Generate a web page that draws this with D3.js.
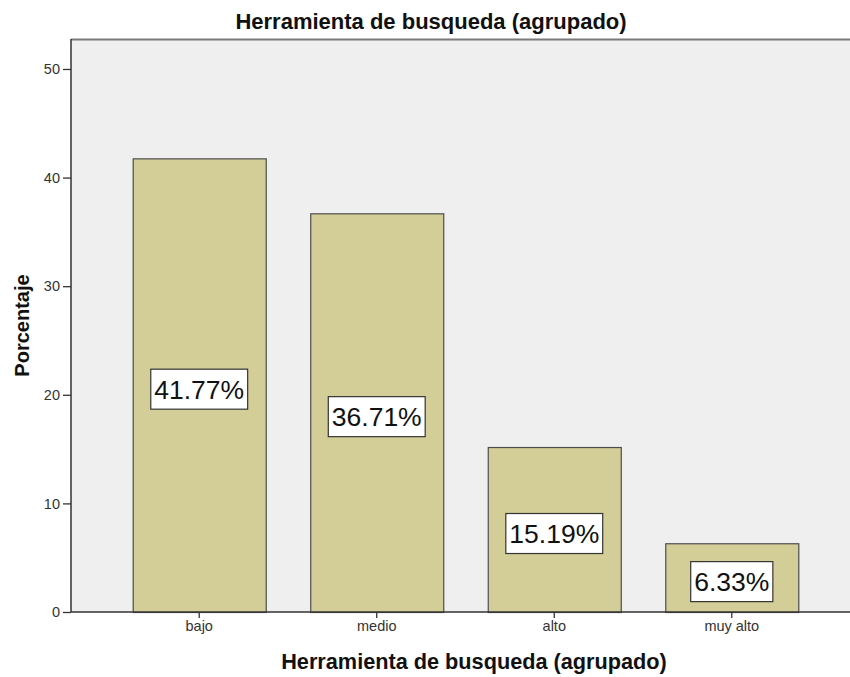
<!DOCTYPE html>
<html>
<head>
<meta charset="utf-8">
<script src="https://cdn.jsdelivr.net/npm/d3@7"></script>
<style>
  html, body { margin: 0; padding: 0; background: #ffffff; }
  svg { display: block; }
</style>
</head>
<body>
<svg id="chart" width="850" height="677"></svg>
<script>
const categories = ["bajo", "medio", "alto", "muy alto"];
const percentages = [41.77, 36.71, 15.19, 6.33];
const valueLabels = ["41.77%", "36.71%", "15.19%", "6.33%"];
const yTicks = [0, 10, 20, 30, 40, 50];
const chartTitle = "Herramienta de busqueda (agrupado)";
const xTitle = "Herramienta de busqueda (agrupado)";
const yTitle = "Porcentaje";

const svg = d3.select("#chart");
const font = "Arial, 'Liberation Sans', Helvetica, sans-serif";
const plot = { left: 71, top: 39, right: 860, bottom: 612 };

const y = d3.scaleLinear().domain([0, 52.76]).range([plot.bottom, plot.top]);
const x = d3.scaleBand().domain(categories).range([plot.left, plot.right])
  .paddingInner(0.2507).paddingOuter(0.3476);

// plot background
svg.append("rect")
  .attr("x", plot.left).attr("y", plot.top)
  .attr("width", plot.right - plot.left).attr("height", plot.bottom - plot.top)
  .attr("fill", "#efefef");
// top border
svg.append("line")
  .attr("x1", plot.left).attr("x2", plot.right)
  .attr("y1", plot.top + 0.5).attr("y2", plot.top + 0.5)
  .attr("stroke", "#7a7a7a").attr("stroke-width", 2);

// bars
const data = categories.map((c, i) => ({ c, v: percentages[i], label: valueLabels[i] }));
svg.append("g").selectAll("rect").data(data).join("rect")
  .attr("x", d => x(d.c) + 0.5)
  .attr("y", d => y(d.v) + 0.5)
  .attr("width", x.bandwidth())
  .attr("height", d => y(0) - y(d.v))
  .attr("fill", "#d3ce98")
  .attr("stroke", "#4d4d4d").attr("stroke-width", 1.2);

// axes
const yAxis = d3.axisLeft(y).tickValues(yTicks).tickSize(8).tickPadding(3);
const gy = svg.append("g").attr("transform", `translate(${plot.left},0)`).call(yAxis);
gy.select(".domain").attr("stroke", "#333").attr("stroke-width", 1.5)
  .attr("d", `M0,${plot.top}V${plot.bottom}`);
gy.selectAll(".tick line").attr("stroke", "#333").attr("stroke-width", 1.3);
gy.selectAll(".tick text").attr("font-family", font).attr("font-size", 14.5).attr("fill", "#333");

const xAxis = d3.axisBottom(x).tickSize(6).tickPadding(3);
const gx = svg.append("g").attr("transform", `translate(0,${plot.bottom})`).call(xAxis);
gx.select(".domain").attr("stroke", "#333").attr("stroke-width", 1.5)
  .attr("d", `M${plot.left},0H${plot.right}`);
gx.selectAll(".tick line").attr("stroke", "#333").attr("stroke-width", 1.3);
gx.selectAll(".tick text").attr("font-family", font).attr("font-size", 14.5).attr("fill", "#333");

// value labels
const lg = svg.append("g").selectAll("g").data(data).join("g")
  .attr("transform", d => `translate(${x(d.c) + x.bandwidth() / 2},${(y(d.v) + y(0)) / 2 + 4})`);
lg.append("rect").attr("class", "box");
lg.append("text")
  .attr("text-anchor", "middle")
  .attr("dy", "0.36em")
  .attr("font-family", font).attr("font-size", 26.5).attr("fill", "#111")
  .text(d => d.label);
lg.each(function () {
  const g = d3.select(this);
  const bb = g.select("text").node().getBBox();
  g.select("rect")
    .attr("x", -bb.width / 2 - 3.5).attr("y", -20)
    .attr("width", bb.width + 7).attr("height", 40)
    .attr("fill", "#fff").attr("stroke", "#333").attr("stroke-width", 1.2);
});

// titles
svg.append("text").attr("x", 431).attr("y", 29)
  .attr("text-anchor", "middle").attr("font-family", font)
  .attr("font-weight", "bold").attr("font-size", 22).attr("fill", "#111")
  .text(chartTitle);
svg.append("text").attr("x", 474).attr("y", 669)
  .attr("text-anchor", "middle").attr("font-family", font)
  .attr("font-weight", "bold").attr("font-size", 21.7).attr("fill", "#111")
  .text(xTitle);
svg.append("text")
  .attr("transform", `translate(29,${(plot.top + plot.bottom) / 2}) rotate(-90)`)
  .attr("text-anchor", "middle").attr("font-family", font)
  .attr("font-weight", "bold").attr("font-size", 20).attr("fill", "#111")
  .text(yTitle);
</script>
</body>
</html>
